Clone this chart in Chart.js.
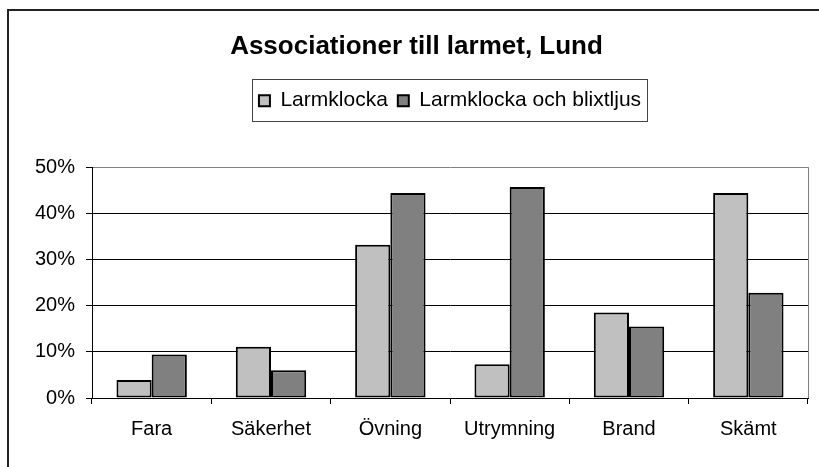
<!DOCTYPE html>
<html>
<head>
<meta charset="utf-8">
<script src="https://cdn.jsdelivr.net/npm/chart.js@4"></script>
<style>
html, body { margin: 0; padding: 0; background: #fff; overflow: hidden; }
#frame { position: absolute; left: 7px; top: 9px; width: 900px; height: 600px; border-left: 2px solid #222; border-top: 2px solid #222; }
#wrap { position: absolute; left: 0; top: 0; width: 819px; height: 467px; }
</style>
</head>
<body>
<div id="frame"></div>
<div id="wrap"><canvas id="myChart" width="819" height="467"></canvas></div>
<script>
const categories = ['Fara', 'Säkerhet', 'Övning', 'Utrymning', 'Brand', 'Skämt']
const larmklocka = [3.9, 11.1, 33.2, 7.3, 18.5, 44.4]
const larmklockaBlixt = [9.4, 6.0, 44.4, 45.7, 15.5, 22.8]
const seriesNames = ['Larmklocka', 'Larmklocka och blixtljus']
const yTicks = [0, 10, 20, 30, 40, 50]

const font = "'Liberation Sans', Arial, sans-serif"

// extra room under the legend, and the legend border / right plot border
const legendSpace = {
    id: 'legendSpace',
    beforeInit(chart) {
        const fit = chart.legend.fit
        chart.legend.fit = function () {
            fit.bind(chart.legend)()
            this.height += 46
        }
    }
}

const frameLines = {
    id: 'frameLines',
    afterDraw(chart) {
        const ctx = chart.ctx
        const a = chart.chartArea
        ctx.save()
        ctx.strokeStyle = '#808080'
        ctx.lineWidth = 1
        ctx.beginPath()
        ctx.moveTo(a.right + 0.5, a.top)
        ctx.lineTo(a.right + 0.5, a.bottom)
        ctx.stroke()

        const boxes = chart.legend.legendHitBoxes
        if (boxes && boxes.length) {
            let x0 = Infinity, x1 = -Infinity, y0 = Infinity, y1 = -Infinity
            boxes.forEach(b => {
                x0 = Math.min(x0, b.left)
                x1 = Math.max(x1, b.left + b.width)
                y0 = Math.min(y0, b.top)
                y1 = Math.max(y1, b.top + b.height)
            })
            ctx.strokeStyle = '#444'
            ctx.strokeRect(Math.round(x0 - 7) + 0.5, Math.round(y0 - 11) + 0.5, Math.round(x1 - x0 + 13), Math.round(y1 - y0 + 21))
        }
        ctx.restore()
    }
}

const ctx = document.getElementById('myChart').getContext('2d')
const myChart = new Chart(ctx, {
    type: 'bar',
    data: {
        labels: categories,
        datasets: [{
            label: seriesNames[0],
            data: larmklocka,
            backgroundColor: '#c0c0c0',
            borderColor: '#000',
            borderWidth: 2,
            borderSkipped: false
        }, {
            label: seriesNames[1],
            data: larmklockaBlixt,
            backgroundColor: '#808080',
            borderColor: '#000',
            borderWidth: 2,
            borderSkipped: false
        }]
    },
    options: {
        responsive: false,
        animation: false,
        layout: { padding: { left: 25, right: 11, top: 10, bottom: 0 } },
        datasets: { bar: { categoryPercentage: 0.59, barPercentage: 1 } },
        plugins: {
            title: {
                display: true,
                text: 'Associationer till larmet, Lund',
                color: '#000',
                font: { family: font, size: 26, weight: 'bold' },
                padding: { top: 21, bottom: 18 }
            },
            legend: {
                fullSize: false,
                labels: {
                    color: '#000',
                    font: { family: font, size: 21 },
                    boxWidth: 11,
                    boxHeight: 11,
                    padding: 10,
                    useBorderRadius: false
                }
            },
            tooltip: { enabled: false }
        },
        scales: {
            x: {
                grid: { display: true, drawOnChartArea: false, color: '#000', tickLength: 6, offset: true },
                border: { color: '#000', width: 1 },
                ticks: { color: '#000', font: { family: font, size: 20 }, padding: 13 },
                afterFit(scale) { scale.height = 69 }
            },
            y: {
                min: 0,
                max: 50,
                afterBuildTicks(scale) { scale.ticks = yTicks.map(v => ({ value: v })) },
                grid: {
                    color: c => (c.tick && c.tick.value === 50) ? '#808080' : '#000',
                    tickColor: '#000',
                    tickLength: 6
                },
                border: { color: '#000', width: 1 },
                ticks: {
                    color: '#000',
                    font: { family: font, size: 20 },
                    padding: 11,
                    callback: v => v + '%'
                },
                afterFit(scale) { scale.width = 67 }
            }
        }
    },
    plugins: [legendSpace, frameLines]
})
</script>
</body>
</html>
